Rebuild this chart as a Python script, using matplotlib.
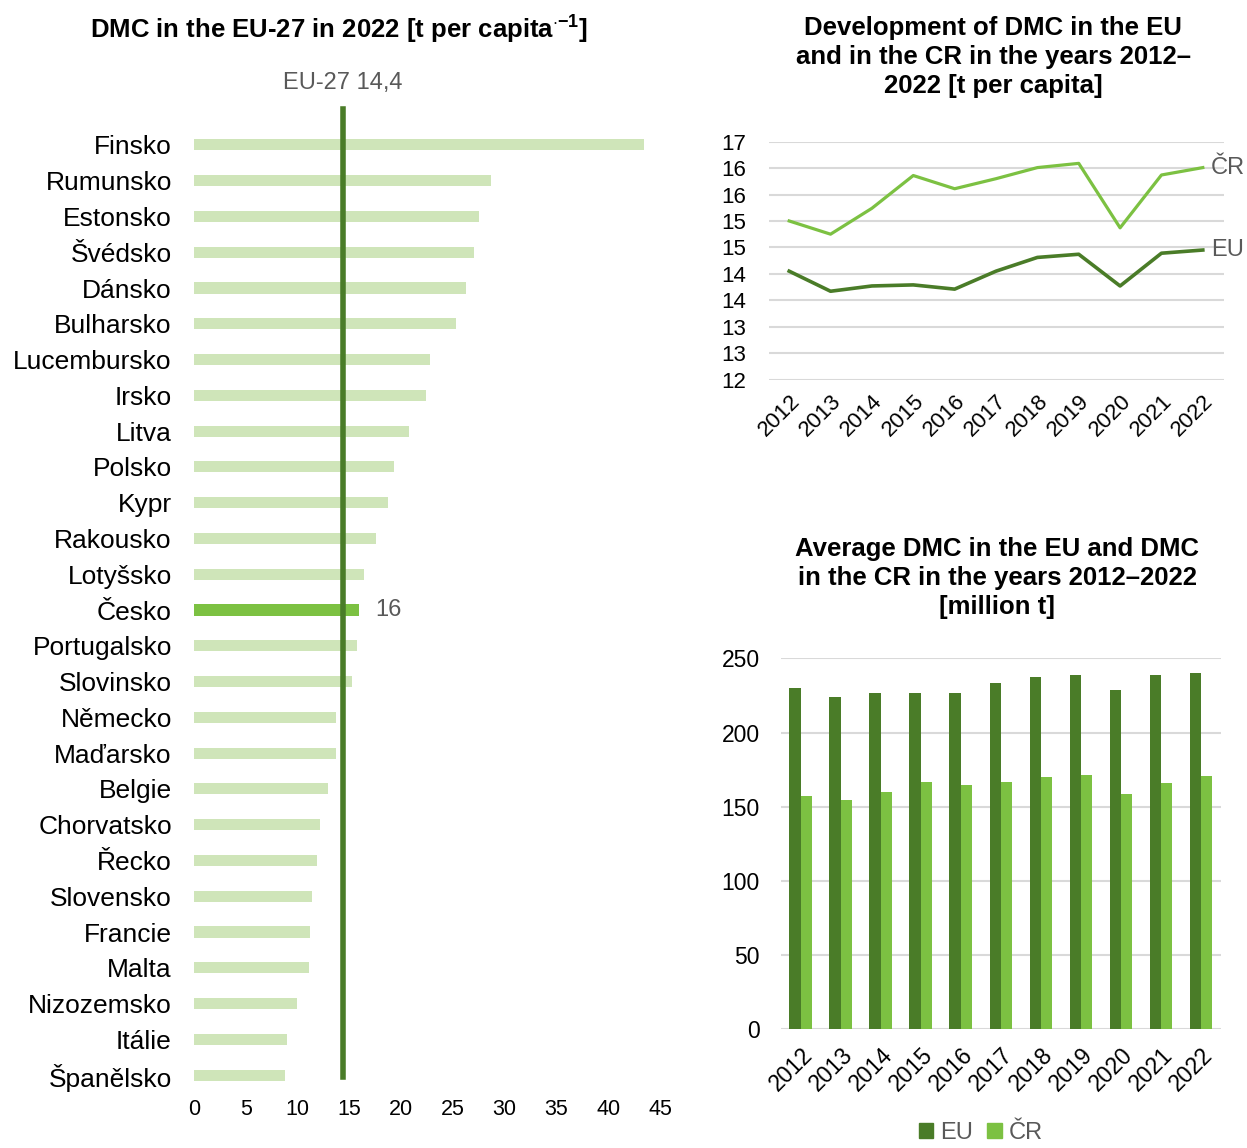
import numpy as np
import matplotlib
matplotlib.use("Agg")
import matplotlib.pyplot as plt
from matplotlib.patches import Patch

plt.rcParams['font.family'] = ['Liberation Sans', 'DejaVu Sans']
plt.rcParams['mathtext.fontset'] = 'custom'
plt.rcParams['mathtext.rm'] = 'Liberation Sans'
plt.rcParams['mathtext.bf'] = 'Liberation Sans:bold'

# Data - left panel (2022, t per capita)
countries = ['Finsko', 'Rumunsko', 'Estonsko', 'Švédsko', 'Dánsko', 'Bulharsko',
             'Lucembursko', 'Irsko', 'Litva', 'Polsko', 'Kypr', 'Rakousko',
             'Lotyšsko', 'Česko', 'Portugalsko', 'Slovinsko', 'Německo', 'Maďarsko',
             'Belgie', 'Chorvatsko', 'Řecko', 'Slovensko', 'Francie', 'Malta',
             'Nizozemsko', 'Itálie', 'Španělsko']
dmc_2022 = [43.5, 28.7, 27.5, 27.0, 26.3, 25.3, 22.8, 22.4, 20.8, 19.3, 18.7, 17.6,
            16.4, 15.9, 15.7, 15.3, 13.7, 13.7, 12.9, 12.2, 11.9, 11.4, 11.2, 11.1,
            9.9, 9.0, 8.8]
eu27_avg = 14.4

# Data - right panels
years = ['2012', '2013', '2014', '2015', '2016', '2017', '2018', '2019', '2020', '2021', '2022']
eu_pc = [14.05, 13.67, 13.77, 13.79, 13.71, 14.05, 14.31, 14.37, 13.77, 14.39, 14.45]
cr_pc = [15.0, 14.75, 15.24, 15.86, 15.61, 15.8, 16.01, 16.09, 14.87, 15.87, 16.01]
eu_mt = [229.8, 224.2, 226.4, 226.4, 226.4, 233.2, 237.6, 239.0, 228.9, 239.0, 239.9]
cr_mt = [157.2, 154.5, 159.9, 166.7, 164.4, 166.9, 169.8, 171.2, 158.6, 166.2, 170.5]

dark = '#4a7c28'
light = '#7cc142'
pale = '#cfe5b9'
gray = '#595959'
grid = '#d9d9d9'

W, H = 1247, 1148
fig = plt.figure(figsize=(W / 100, H / 100), dpi=100)


def box(l, t, r, b):
    return [l / W, 1 - b / H, (r - l) / W, (b - t) / H]


# ---------------------
# Left: horizontal bars
ax1 = fig.add_axes(box(194, 127, 660, 1093))
ypos = np.arange(len(countries))
colors = [light if c == 'Česko' else pale for c in countries]
ax1.barh(ypos, dmc_2022, height=0.31, color=colors)
ax1.set_ylim(len(countries) - 0.5, -0.5)
ax1.set_xlim(0, 45)
ax1.set_yticks(ypos)
ax1.set_yticklabels(countries, fontsize=19)
ax1.set_xticks(np.arange(0, 50, 5))
ax1.tick_params(axis='x', labelsize=15.5, length=0, pad=4)
ax1.tick_params(axis='y', length=0, pad=16)
for s in ax1.spines.values():
    s.set_visible(False)
ax1.plot([eu27_avg, eu27_avg], [-1.0, len(countries) - 0.95], color=dark, lw=4, clip_on=False)
ax1.text(eu27_avg, -1.72, 'EU-27 14,4', ha='center', va='center', color=gray, fontsize=17)
ci = countries.index('Česko')
ax1.text(dmc_2022[ci] + 1.6, ci, '%d' % round(dmc_2022[ci]), va='center', ha='left',
         color=gray, fontsize=17)
fig.text(339 / W, 1 - 29 / H, r'DMC in the EU-27 in 2022 [t per capita$^{\cdot\mathbf{-1}}$]',
         ha='center', va='center', fontsize=18.5, fontweight='bold')

# ---------------------
# Top right: line chart
ax2 = fig.add_axes(box(768.5, 141.7, 1223.5, 379.5))
x = np.arange(len(years))
ax2.plot(x, cr_pc, color=light, lw=2.3)
ax2.plot(x, eu_pc, color=dark, lw=2.6)
ax2.set_xlim(-0.5, len(years) - 0.5)
ax2.set_ylim(12, 16.5)
yt = np.arange(12, 16.51, 0.5)
ax2.set_yticks(yt)
ax2.set_yticklabels(['%d' % int(v + 0.5) for v in yt])
ax2.set_xticks(x)
ax2.set_xticklabels(years, rotation=45, ha='right', rotation_mode='anchor')
ax2.tick_params(axis='both', labelsize=16, length=0)
ax2.tick_params(axis='y', pad=16)
ax2.tick_params(axis='x', pad=8)
ax2.grid(axis='y', color=grid, lw=1.5)
ax2.set_axisbelow(True)
for s in ax2.spines.values():
    s.set_visible(False)
ax2.text(x[-1] + 0.2, cr_pc[-1], 'ČR', va='center', ha='left', color=gray, fontsize=17, clip_on=False)
ax2.text(x[-1] + 0.2, eu_pc[-1], 'EU', va='center', ha='left', color=gray, fontsize=17, clip_on=False)
fig.text(993 / W, 1 - 57 / H,
         'Development of DMC in the EU\nand in the CR in the years 2012–\n2022 [t per capita]',
         ha='center', va='center', fontsize=18.5, fontweight='bold', linespacing=1.28)

# ---------------------
# Bottom right: grouped bars
ax3 = fig.add_axes(box(780.7, 658.3, 1221, 1029.3))
bw = 0.283
ax3.bar(x - bw / 2, eu_mt, width=bw, color=dark, label='EU')
ax3.bar(x + bw / 2, cr_mt, width=bw, color=light, label='ČR')
ax3.set_xlim(-0.5, len(years) - 0.5)
ax3.set_ylim(0, 250)
ax3.set_yticks(np.arange(0, 251, 50))
ax3.set_xticks(x)
ax3.set_xticklabels(years, rotation=45, ha='right', rotation_mode='anchor')
ax3.tick_params(axis='both', labelsize=16.5, length=0)
ax3.tick_params(axis='y', pad=15)
ax3.tick_params(axis='x', pad=10)
ax3.grid(axis='y', color=grid, lw=1.5)
ax3.set_axisbelow(True)
for s in ax3.spines.values():
    s.set_visible(False)
fig.text(997 / W, 1 - 578 / H,
         'Average DMC in the EU and DMC\nin the CR in the years 2012–2022\n[million t]',
         ha='center', va='center', fontsize=18.5, fontweight='bold', linespacing=1.28)
handles = [Patch(color=dark, label='EU'), Patch(color=light, label='ČR')]
leg = fig.legend(handles=handles, loc='center', bbox_to_anchor=(981 / W, 1 - 1133 / H), ncol=2,
                 frameon=False, fontsize=17, handlelength=0.6, handleheight=0.6,
                 handletextpad=0.3, columnspacing=0.6)
for t in leg.get_texts():
    t.set_color(gray)

fig.savefig('out.png', dpi=100)
